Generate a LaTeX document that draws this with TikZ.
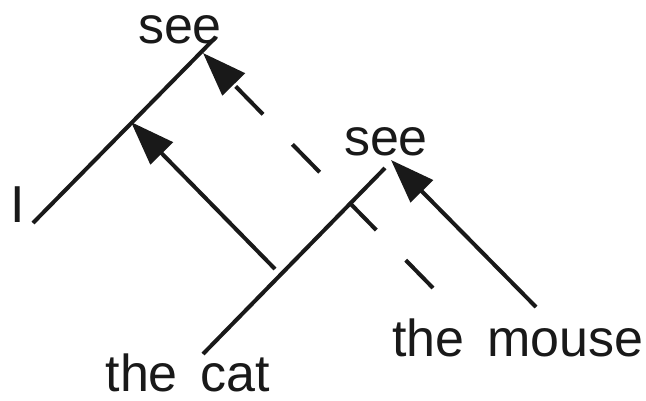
\documentclass[tikz,border=0pt]{standalone}
\usepackage{fontspec}
\newfontfamily\labfont[WordSpace=1.6]{Liberation Sans}
\usetikzlibrary{arrows.meta}
\begin{document}
\begin{tikzpicture}[x=1pt,y=-1pt,
  lab/.style={inner sep=0pt,anchor=base,font=\labfont\fontsize{52}{60}\selectfont,text=black!90},
  branch/.style={line width=4pt,black!90},
  mover/.style={line width=4pt,black!90,-{Triangle[length=44pt,width=31pt]}},
  dmover/.style={mover,dash pattern=on 39pt off 42pt}]
\useasboundingbox (0,0) rectangle (646,400);
% labels
\node[lab] (seeA) at (180,43) {see};
\node[lab] (I) at (18,222) {I};
\node[lab] (seeB) at (386,155) {see};
\node[lab] (cat) at (188,391) {the cat};
\node[lab] (mouse) at (518,356) {the mouse};
% branch end points
\coordinate (a1) at (33,223);
\coordinate (a2) at (216,37);
\coordinate (b1) at (203,354);
\coordinate (b2) at (385,168);
\coordinate (t1) at (275,269);
\coordinate (h1) at (131,122);
\coordinate (t2) at (433,288);
\coordinate (h2) at (203,53);
\coordinate (t3) at (536,307);
\coordinate (h3) at (391,160);
% branches
\draw[branch] (a1) -- (a2);
\draw[branch] (b1) -- (b2);
% movement arrows
\draw[mover] (t1) -- (h1);
\draw[dmover] (t2) -- (h2);
\draw[mover] (t3) -- (h3);
\end{tikzpicture}
\end{document}
